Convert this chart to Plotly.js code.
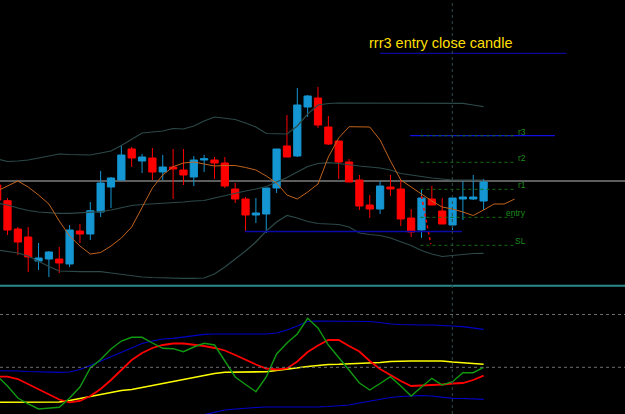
<!DOCTYPE html>
<html>
<head>
<meta charset="utf-8">
<script src="https://cdn.plot.ly/plotly-3.0.1.min.js"></script>
<style>html,body{margin:0;padding:0;background:#000;}#chart{width:625px;height:414px;}</style>
</head>
<body>
<div id="chart"></div>
<script>
// ---- bar index (k = -1 is the bar cut off at the left edge) ----
const bars = [-1,0,1,2,3,4,5,6,7,8,9,10,11,12,13,14,15,16,17,18,19,20,21,22,23,24,25,26,27,28,29,30,31,32,33,34,35,36,37,38,39,40,41,42,43,44,45,46];
// ---- price (chart units) ----
const open  = [115,99.3,71,63,39,41,41,36,69,66,88,113,120,151,139,142,128,133,130,123,140,140,137,111,101,85,86,112,154,144,193,202,173,159,138,120,95,91,113,111,82,70,101,89,75,101,101,99];
const high  = [117,102,73,73,57,49,53,75,76,98,129,123,155,153,146,152,145,151,151,144,145,143,143,117,103,102,112,151,185,212,205,213,184,159,141,125,105,119,125,120,91,110,114,102,102,119,125,121];
const low   = [98,65,45,28,30,23,27,33,57,60,83,92,120,133,127,120,120,101,115,114,128,121,112,97,68,77,67,107,143,143,183,172,155,121,118,90,82,86,104,74,63,62,95,76,70,80,100,90];
const close = [100,70,58,43,42,48,37,70,66,89.3,117,122,145,142,143,128,133,131,125,140,141.3,137,114,101,85,87,112,151,143,195,204,175,156,138,118,94,91,114,111,81,68,102,95,76,102,103,103,118];
// Bollinger bands
const bbUpper = [141,138.5,139,140,142,144,146,145.5,145,145,147,149,154.5,161,167,168,169,171.5,171,174,179,183,182,180.5,177,173,166.5,166.5,166,174,186,195,196.5,197,197,197.3,197.3,197.3,197.3,197.3,197.3,197,196.7,196.7,196.7,196.7,195,193.3];
const bbMid   = [97,95,92,89.5,88,87,86.7,86.7,87,87.5,88.3,90,92,94.5,95.5,96,96.5,97,98,99,99.5,102,104.5,107,109,111,113.5,118,122.5,128,133.5,136.5,137.3,136.5,135,134,133,132,130,126.5,125,123.3,122,121,120,120,120,120];
const bbLower = [50,48.5,47,44,38.5,33.5,29,28.3,28.3,28.3,28.3,27,25.5,24,23,22.5,22,21.7,21.7,21.7,22,26,33,41,49,58,69,78,84.5,82,78.5,76.5,76,75.5,73,67,65.5,64.5,62,58,54.5,49.5,46,43.5,44.5,46,46.5,46.7];
// shifted moving average (extends 3 bars past the last candle)
const maBars = [-1,0,1,2,3,4,5,6,7,8,9,10,11,12,13,14,15,16,17,18,19,20,21,22,23,24,25,26,27,28,29,30,31,32,33,34,35,36,37,38,39,40,41,42,43,44,45,46,47,48,49];
const maShift = [109,114,119,113,105,96,79,64,54,46,47.5,54,62,73,93,112,125,133.3,137,138,136,134,134.5,134.5,132.5,130,124,117,105,101,108,116,143,162,173.3,173.3,173,160,139,120,113,106,99,93,91,88,84.5,90,96,96,101];
// ---- lower indicator window ----
const indUpper  = [43.3,43.3,43,42.5,42,41.7,41.7,42,44.5,48.5,53,57,62,66.5,70.5,73,75,75.7,77,78.5,79.7,80,80,80,80,80,80,81,84,88,92.5,93,93,93,93,92.7,92.5,91.5,90,89.5,89,89,89,88.7,88,87.3,86,84.7];
const indLower  = [null,null,null,null,null,null,null,null,null,null,null,null,null,null,null,null,null,null,null,-3,-0.5,2,4,5,6,6.5,7,7,7,6.5,6.5,7,7.5,8,9,11,13,14.5,16.5,17.5,18,18.5,18,16.5,15.7,15.5,15,14.7];
const indYellow = [11.7,11.7,11.7,11.7,11.7,11.7,12,13.5,15.5,17.5,19.5,21.5,23.5,24.5,26.5,28.5,30.5,32.5,34.5,36.5,38.5,40.5,41.7,42,42,42.3,42.3,43.5,45,46.5,47.5,48.5,49.5,49.7,50,50.5,50.7,51.5,52.5,53,53,53,53,53,52,51,50.3,49.7];
const indRed    = [37.3,37.3,35,30,25,19.5,14.5,11.7,13,18,25,34,44,54,61,66,69,70.5,70.5,69.5,68,66,63.5,59,54,49.5,45.5,44.5,45.5,52.5,62,68.5,74,74,68,62.5,53,45,39,33,28,28.5,28.5,29.5,30.5,31,34,38.3];
const indGreen  = [38,28,16,10,5,5.5,6.7,16,27,46,54.5,65,73,76.7,76.7,71,65.7,65.3,62.3,67,70.7,69,53,37,29.5,22.3,37,60,71,80,95.7,86,69,57,44,31,24,30.5,37.3,28,18,27,35.7,29,32.3,41.3,41.3,46.7];
const indLevels = [99.5, 46.7];
// ---- horizontal objects ----
const greyLevel = 119;
const levelNames  = ['r3','r2','r1','entry','SL'];
const levelValues = [164.3,137.7,110.7,82.7,54.7];
const levelFrom = 39.9, levelTo = 49.0, labelAt = 50.3;
const blueLines = [ {from:36.0, to:54.0, value:246.7, color:'#0a0a9a'},
                    {from:38.9, to:52.9, value:164.3, color:'#1010e0'},
                    {from:22.95, to:43.9, value:68.5, color:'#0a0aa8'} ];
const redDotted = {x:[40,40.9], y:[104,56]};
const markerBar = 42.98;
const noteText = 'rrr3 entry close candle';

const traces = [];
traces.push({type:'scatter', mode:'lines', x:bars, y:bbUpper, line:{color:'#2c4848', width:1.2}, hoverinfo:'skip'});
traces.push({type:'scatter', mode:'lines', x:bars, y:bbMid,   line:{color:'#2c4848', width:1.2}, hoverinfo:'skip'});
traces.push({type:'scatter', mode:'lines', x:bars, y:bbLower, line:{color:'#2c4848', width:1.2}, hoverinfo:'skip'});
traces.push({type:'scatter', mode:'lines', x:maBars, y:maShift, line:{color:'#c2631c', width:1}, hoverinfo:'skip'});
traces.push({type:'candlestick', x:bars, open:open, high:high, low:low, close:close,
  increasing:{line:{color:'#1496d2', width:1}, fillcolor:'#1496d2'},
  decreasing:{line:{color:'#ff0000', width:1}, fillcolor:'#ff0000'},
  whiskerwidth:0, hoverinfo:'skip'});
traces.push({type:'scatter', mode:'lines', x:redDotted.x, y:redDotted.y, line:{color:'#ff0000', width:1.5, dash:'dot'}, hoverinfo:'skip'});
// lower window
traces.push({type:'scatter', mode:'lines', x:bars, y:indUpper,  yaxis:'y2', line:{color:'#0000c8', width:1.2}, hoverinfo:'skip'});
traces.push({type:'scatter', mode:'lines', x:bars, y:indLower,  yaxis:'y2', line:{color:'#0000c8', width:1.2}, hoverinfo:'skip', connectgaps:false});
traces.push({type:'scatter', mode:'lines', x:bars, y:indYellow, yaxis:'y2', line:{color:'#ffff00', width:1.6}, hoverinfo:'skip'});
traces.push({type:'scatter', mode:'lines', x:bars, y:indRed,    yaxis:'y2', line:{color:'#ff0000', width:1.8}, hoverinfo:'skip'});
traces.push({type:'scatter', mode:'lines', x:bars, y:indGreen,  yaxis:'y2', line:{color:'#109a10', width:1.4}, hoverinfo:'skip'});

const shapes = [];
shapes.push({type:'line', xref:'paper', x0:0, x1:1, yref:'y', y0:greyLevel, y1:greyLevel, line:{color:'#5c5e5e', width:1.8}, layer:'below'});
blueLines.forEach(b => shapes.push({type:'line', xref:'x', x0:b.from, x1:b.to, yref:'y', y0:b.value, y1:b.value, line:{color:b.color, width:1.3}}));
levelValues.forEach(v => shapes.push({type:'line', xref:'x', x0:levelFrom, x1:levelTo, yref:'y', y0:v, y1:v, line:{color:'#137013', width:1, dash:'dot'}}));
indLevels.forEach(v => shapes.push({type:'line', xref:'paper', x0:0, x1:1, yref:'y2', y0:v, y1:v, line:{color:'#6e6e6e', width:1, dash:'dot'}}));
shapes.push({type:'line', xref:'paper', x0:0, x1:1, yref:'paper', y0:0.3097, y1:0.3097, line:{color:'#2b8a8a', width:2}});
shapes.push({type:'line', xref:'x', x0:markerBar, x1:markerBar, yref:'paper', y0:0, y1:1, line:{color:'#2d4a4a', width:1, dash:'dot'}});

const annotations = levelNames.map((n,i) => ({xref:'x', yref:'y', x:labelAt, y:levelValues[i], text:n,
  xanchor:'right', yanchor:'middle', yshift:4, showarrow:false,
  font:{family:'Liberation Sans, Arial, sans-serif', size:8.5, color:'#1c8c1c'}}));
annotations.push({xref:'paper', yref:'paper', x:367/625, y:1-43/414, text:noteText, xanchor:'left', yanchor:'middle', showarrow:false,
  font:{family:'Liberation Sans, Arial, sans-serif', size:14.5, color:'#ffdf00'}});

const layout = {
  width:625, height:414, margin:{l:0,r:0,t:0,b:0},
  paper_bgcolor:'#000', plot_bgcolor:'#000', showlegend:false,
  boxgap:0.3, boxgroupgap:0,
  xaxis:{range:[-0.72464, 59.6619], showgrid:false, zeroline:false, showticklabels:false, showline:false, ticks:'', rangeslider:{visible:false}, fixedrange:true},
  yaxis:{domain:[0.309179,1], range:[14,300], showgrid:false, zeroline:false, showticklabels:false, ticks:'', fixedrange:true},
  yaxis2:{domain:[0,0.309179], range:[0,128], showgrid:false, zeroline:false, showticklabels:false, ticks:'', fixedrange:true},
  shapes:shapes, annotations:annotations
};
Plotly.newPlot('chart', traces, layout, {displayModeBar:false, staticPlot:true});
</script>
</body>
</html>
